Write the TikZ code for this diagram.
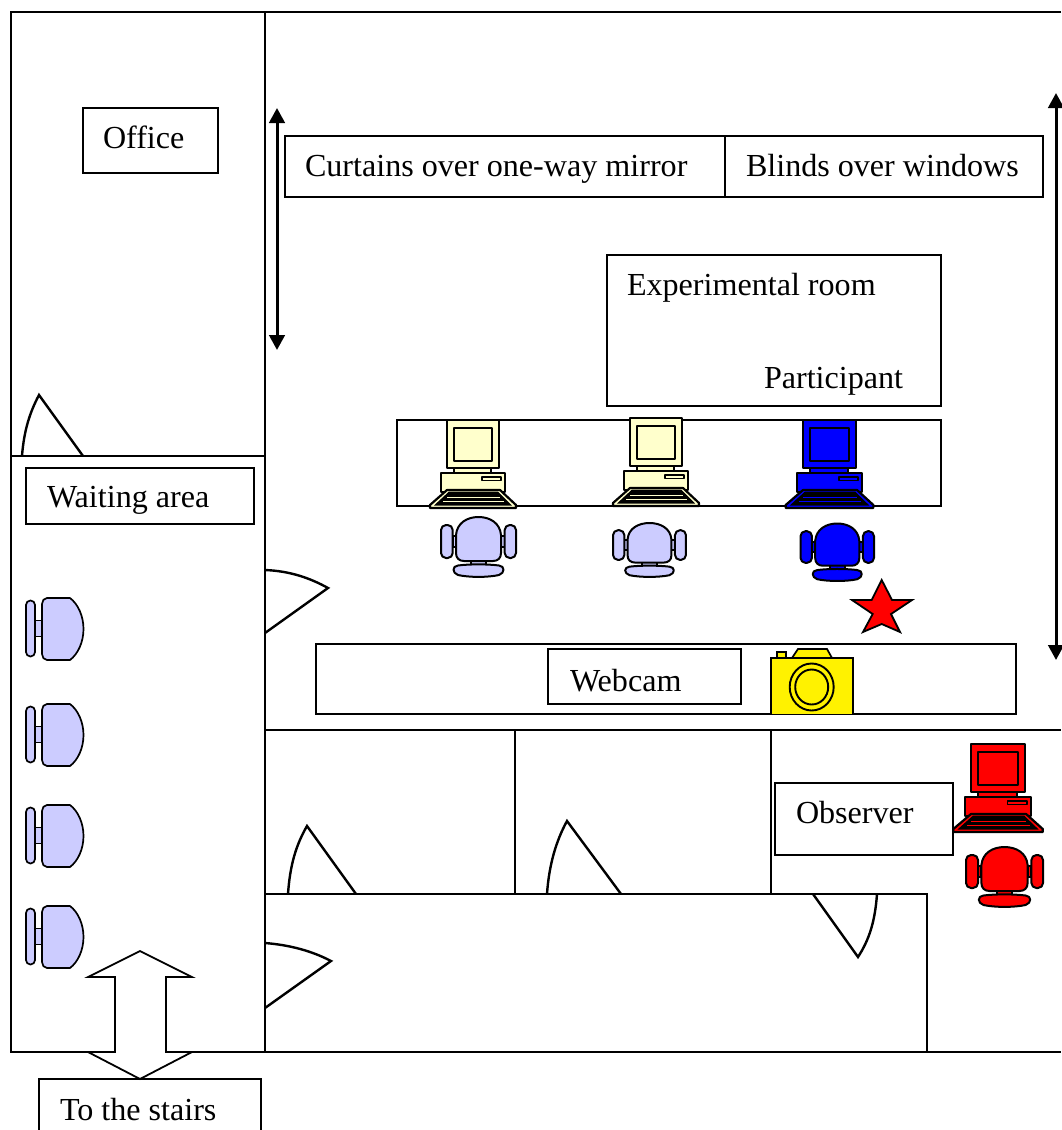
\documentclass[tikz,border=0pt]{standalone}
\usepackage{fontspec}
\setmainfont{Liberation Serif}
\usetikzlibrary{arrows.meta}
\definecolor{cream}{HTML}{FFFFCC}
\definecolor{lav}{HTML}{CCCCFF}
\newcommand{\pccomp}[4]{%
\begin{scope}[shift={(#1,#2)},xscale=#3,line width=2.2pt,draw=black,fill=#4,line join=round]
 \filldraw (0,0) rectangle (52,48);
 \filldraw (7,8) rectangle (45,41);
 \filldraw (7,48) rectangle (44,53);
 \filldraw (-6,53) rectangle (58,72);
 \filldraw[line width=1.6pt] (35,57) rectangle (54,60.5);
 \filldraw (0,70) -- (53,70) -- (69,85) -- (69,88) -- (-17,88) -- (-17,85) -- cycle;
 \fill[black] (2,71.5) -- (51,71.5) -- (65,85.5) -- (-13,85.5) -- cycle;
 \draw[#4,line width=0.9pt] (0,77) -- (53,77);
 \draw[#4,line width=0.9pt] (-4,81) -- (57,81);
\end{scope}}
\newcommand{\pcchair}[6]{%
\begin{scope}[shift={(#1,#2)},xscale=#3,yscale=#4,line width=2pt,draw=black,fill=#5,line join=round]
 \filldraw (11.7,19) rectangle (15,30);
 \filldraw (60,19) rectangle (63.7,30);
 \filldraw[rounded corners=5pt] (0,8) rectangle (11.7,41);
 \filldraw[rounded corners=5pt] (63.7,8) rectangle (75,41);
 \filldraw (30,43) rectangle (45,49);
 \filldraw (15,18) .. controls (16,6) and (26,0) .. (37.5,0) .. controls (49,0) and (59,6) .. (60,18)
   -- (60,36) .. controls (60,41) and (57,44) .. (52,44) -- (23,44) .. controls (18,44) and (15,41) .. (15,36) -- cycle;
 \filldraw (17,48.5) .. controls (28,47) and (47,47) .. (58,48.5) .. controls (64,49) and (64,56) .. (58,58)
   .. controls (47,60.5) and (28,60.5) .. (17,58) .. controls (11,56) and (11,49) .. (17,48.5) -- cycle;
\end{scope}}
\newcommand{\sidechair}[2]{%
\begin{scope}[shift={(#1,#2)},line width=1.7pt,draw=black,fill=lav,line join=round]
 \filldraw (35,22.5) rectangle (42,38.5);
 \filldraw[rounded corners=4.4pt] (26,2.5) rectangle (35,58.5);
 \filldraw (47,0) -- (70,0) .. controls (78,6) and (83.5,18) .. (83.5,31) .. controls (83.5,44) and (78,56) .. (70,62) -- (47,62) .. controls (44,62) and (42,59) .. (42,56) -- (42,6) .. controls (42,3) and (44,0) .. (47,0) -- cycle;
\end{scope}}
\tikzset{
 wall/.style={line width=1.9pt,draw=black},
 boxline/.style={line width=1.8pt,draw=black},
 doorline/.style={line width=2.4pt,draw=black,line join=miter},
 lbl/.style={anchor=base west,inner sep=0pt,outer sep=0pt,font=\fontsize{32.1pt}{36pt}\selectfont,text=black},
 blackarrow/.style={line width=3pt,{Triangle[width=15.5pt,length=15pt]}-{Triangle[width=15.5pt,length=15pt]}},
}
\begin{document}
\begin{tikzpicture}[x=1pt,y=-1pt]
\useasboundingbox (0,0) rectangle (1061,1130);
\fill[white] (0,0) rectangle (1061,1130);
% walls
\draw[wall] (1061,12) -- (11,12) -- (11,1052) -- (1061,1052);
\draw[wall] (265,12) -- (265,1052);
\draw[wall] (11,456) -- (265,456);
\draw[wall] (265,730) -- (1061,730);
\draw[wall] (265,894) -- (927,894) -- (927,1052);
\draw[wall] (515,730) -- (515,894);
\draw[wall] (771,730) -- (771,894);
% doors
\draw[doorline] (22,456) .. controls (24,430) and (30,412) .. (39,395) -- (83,456);
\draw[doorline] (265,570) .. controls (290,571) and (310,578) .. (328,588) -- (265,633);
\draw[doorline] (288,894) .. controls (290,865) and (296,845) .. (307,826) -- (356,894);
\draw[doorline] (547,894) .. controls (549,865) and (556,841) .. (567,821) -- (621,894);
\draw[doorline] (265,943) .. controls (290,945) and (312,951) .. (331,961) -- (265,1008);
\draw[doorline] (877,894) .. controls (875,922) and (869,940) .. (858,957) -- (813,894);
% boxes
\draw[boxline] (83,108) rectangle (218,173);
\draw[boxline] (285,136) rectangle (725,197);
\draw[boxline] (725,136) rectangle (1043,197);
\draw[boxline] (607,255) rectangle (941,406);
\draw[boxline] (397,420) rectangle (941,506);
\draw[boxline] (26,468) rectangle (254,524);
\draw[boxline] (316,644) rectangle (1016,714);
\draw[boxline] (548,649) rectangle (741,704);
\draw[boxline] (775,783) rectangle (953,855);
\draw[boxline] (39,1130) -- (39,1079) -- (261,1079) -- (261,1130);
% labels
\node[lbl] (office) at (103,148) {Office};
\node[lbl] (curtains) at (305,176) {Curtains over one-way mirror};
\node[lbl] (blinds) at (746,176) {Blinds over windows};
\node[lbl] (exproom) at (627,295) {Experimental room};
\node[lbl] (participant) at (764,388) {Participant};
\node[lbl] (waiting) at (47,507) {Waiting area};
\node[lbl] (webcam) at (570,691) {Webcam};
\node[lbl] (observer) at (796,823) {Observer};
\node[lbl] (stairs) at (60,1120) {To the stairs};
% arrows
\coordinate (cA) at (277,108);
\coordinate (cB) at (277,350);
\coordinate (bA) at (1056,93);
\coordinate (bB) at (1056,660);
\draw[blackarrow] (cA) -- (cB);
\draw[blackarrow] (bA) -- (bB);
% stairs arrow
\filldraw[line width=1.8pt,draw=black,fill=white,miter limit=10] (140,951) -- (192,977) -- (166,977) -- (166,1052) -- (192,1052) -- (140,1079) -- (88,1052) -- (115,1052) -- (115,977) -- (88,977) -- cycle;
% computers
\pccomp{447}{420}{1}{cream}
\pccomp{630}{418}{1}{cream}
\pccomp{803}{420}{1.02}{blue}
\pccomp{971}{744}{1.04}{red}
% chairs
\pcchair{441}{517}{1}{1}{lav}{}
\pcchair{613}{523}{0.973}{0.9}{lav}{}
\pcchair{800.5}{523.5}{0.98}{0.96}{blue}{}
\pcchair{966}{847}{1.027}{1}{red}{}
\sidechair{0}{598}
\sidechair{0}{704}
\sidechair{0}{805}
\sidechair{0}{906}
% star
\filldraw[line width=1.8pt,draw=black,fill=red,line join=miter] (881.7,580) -- (892,600) -- (912,600) -- (891,614) -- (900,632) -- (881.7,624) -- (863,632) -- (872.7,614) -- (852,600) -- (871.7,600) -- cycle;
% camera
\filldraw[line width=1.7pt,draw=black,fill=yellow] (777,652) rectangle (786,658);
\filldraw[line width=1.7pt,draw=black,fill=yellow] (792,658) -- (798,649) -- (827,649) -- (832,658) -- cycle;
\filldraw[line width=1.9pt,draw=black,fill=yellow] (771,658) rectangle (853,714.5);
\draw[line width=1.9pt] (811.7,687) ellipse [x radius=22,y radius=23.5];
\draw[line width=1.9pt] (811.7,687) ellipse [x radius=16.5,y radius=17.5];
\end{tikzpicture}
\end{document}
